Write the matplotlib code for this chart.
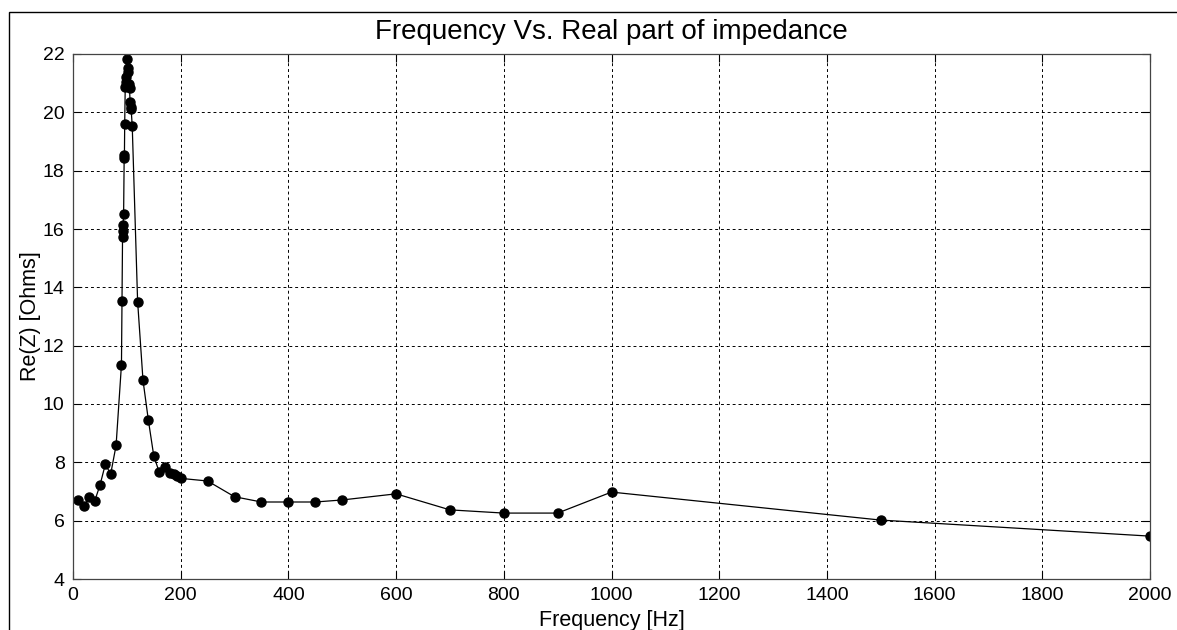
import matplotlib
matplotlib.use("Agg")
import matplotlib.pyplot as plt
from matplotlib.patches import Rectangle

plt.rcParams['font.family'] = ['Liberation Sans', 'DejaVu Sans']

freq = [10, 20, 30, 40, 50, 60, 70, 80, 90,
        91, 92, 92.5, 93, 94, 95, 95.5, 96, 97, 98, 99, 100,
        102, 103, 104, 105, 106, 107, 108, 110, 120,
        130, 140, 150, 160, 170, 180, 187, 194, 200,
        250, 300, 350, 400, 450, 500, 600, 700, 800, 900, 1000, 1500, 2000]
re_z = [6.71, 6.50, 6.80, 6.66, 7.21, 7.93, 7.60, 8.58, 11.35,
        13.54, 15.73, 15.94, 16.14, 16.51, 18.42, 18.54, 19.59, 20.88, 21.05, 21.22, 21.83,
        21.51, 21.39, 20.96, 20.82, 20.36, 20.19, 20.10, 19.53, 13.51,
        10.81, 9.44, 8.22, 7.67, 7.85, 7.64, 7.60, 7.53, 7.45,
        7.36, 6.82, 6.64, 6.64, 6.64, 6.71, 6.92, 6.37, 6.26, 6.26, 6.98, 6.02, 5.47]

xticks = list(range(0, 2001, 200))
yticks = list(range(4, 23, 2))

fig = plt.figure(figsize=(11.77, 6.30), dpi=100)
# outer frame like the matlab figure border
fig.patches.append(Rectangle((9/1177, -0.05), 1.2, 1 - 12/630 + 0.05,
                             transform=fig.transFigure, fill=False,
                             edgecolor='black', linewidth=1))

ax = fig.add_axes([73/1177, 1 - 579/630, (1150 - 73)/1177, (579 - 54)/630])
ax.plot(freq, re_z, '-o', color='black', linewidth=0.9,
        markersize=6.5, markerfacecolor='black', markeredgecolor='black')

ax.set_xlim(0, 2000)
ax.set_ylim(4, 22)
ax.set_xticks(xticks)
ax.set_yticks(yticks)
ax.grid(True, color='black', linestyle=(0, (3, 3)), linewidth=0.7)
ax.tick_params(direction='in', top=True, right=True, labelsize=14, length=6, pad=6)
for s in ax.spines.values():
    s.set_linewidth(0.9)
    s.set_color('#444444')

ax.set_xlabel('Frequency [Hz]', fontsize=15.5, labelpad=4)
ax.set_ylabel('Re(Z) [Ohms]', fontsize=15.5, labelpad=1)
ax.set_title('Frequency Vs. Real part of impedance', fontsize=20, pad=11)

fig.savefig('out.png', dpi=100)
